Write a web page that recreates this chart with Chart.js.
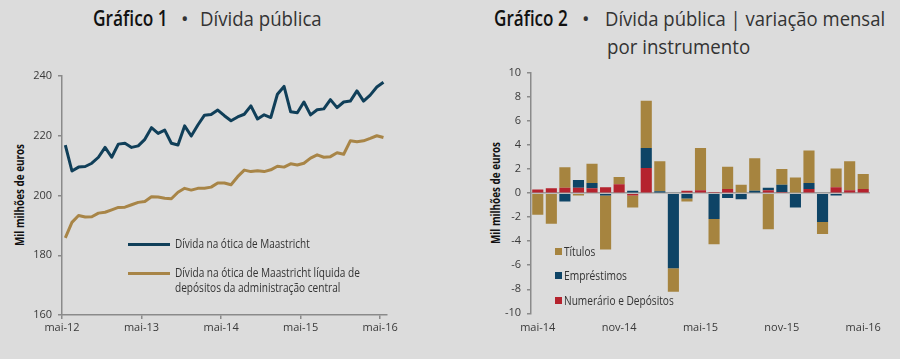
<!DOCTYPE html>
<html>
<head>
<meta charset="utf-8">
<script src="https://cdn.jsdelivr.net/npm/chart.js@4.4.1/dist/chart.umd.min.js"></script>
<style>
html,body{margin:0;padding:0;background:#dcdcdc;}
#wrap{position:relative;width:900px;height:359px;overflow:hidden;background:#dcdcdc;font-family:'Open Sans',sans-serif;color:#333;}
canvas{position:absolute;}
.t{position:absolute;white-space:nowrap;line-height:1;transform-origin:0 50%;}
.rot{position:absolute;white-space:nowrap;line-height:1;font-weight:700;font-size:12px;color:#111;}
.sw{position:absolute;}
</style>
</head>
<body>
<div id="wrap">
  <div class="t fit" data-w="75" style="left:93px;top:8px;font-size:21px;font-weight:600;color:#111">Gráfico 1</div>
  <div class="t" style="left:181px;top:9px;font-size:20px;color:#333">•</div>
  <div class="t fit" data-w="122" style="left:200px;top:9px;font-size:20px;color:#333">Dívida pública</div>

  <div class="t fit" data-w="74" style="left:494px;top:8px;font-size:21px;font-weight:600;color:#111">Gráfico 2</div>
  <div class="t" style="left:582px;top:9px;font-size:20px;color:#333">•</div>
  <div class="t fit" data-w="280" style="left:605px;top:9px;font-size:20px;color:#333">Dívida pública | variação mensal</div>
  <div class="t fit" data-w="143" style="left:607px;top:37px;font-size:20px;color:#333">por instrumento</div>

  <div class="rot fitr" data-w="102" style="left:20px;top:195px;">Mil milhões de euros</div>
  <div class="rot fitr" data-w="102" style="left:496px;top:193px;">Mil milhões de euros</div>

  <canvas id="c1" width="400" height="290" style="left:0;top:60px;"></canvas>
  <canvas id="c2" width="450" height="290" style="left:450px;top:60px;"></canvas>
  <div id="leg1"></div>
  <div id="leg2"></div>
</div>
<script>
// ---------- Gráfico 1 data ----------
const lineTickLabels = ['mai-12', 'mai-13', 'mai-14', 'mai-15', 'mai-16'];
const monthNames = ['jan','fev','mar','abr','mai','jun','jul','ago','set','out','nov','dez'];
function monthSeq(startMonth, startYear, n) {
  const out = [];
  for (let k = 0; k < n; k++) {
    const m = (startMonth + k) % 12;
    const y = startYear + Math.floor((startMonth + k) / 12);
    out.push(monthNames[m] + '-' + String(y).padStart(2, '0'));
  }
  return out;
}
const lineMonths = monthSeq(4, 12, 49); // mai-12 .. mai-16
const dividaMaastricht = [
  216.9, 208.2, 209.5, 209.7, 210.8, 212.8, 216.1, 212.8, 217.2, 217.5,
  216.1, 216.6, 218.8, 222.7, 220.8, 221.9, 217.5, 216.9, 223.3, 219.9,
  223.6, 226.9, 227.1, 228.6, 226.7, 225.0, 226.3, 227.2, 230.0, 225.6,
  227.0, 226.1, 233.9, 236.5, 228.0, 227.7, 231.3, 227.0, 228.7, 229.0,
  232.1, 229.4, 231.3, 231.6, 235.0, 231.6, 233.6, 236.3, 237.9
];
const dividaLiquida = [
  185.8, 191.0, 193.3, 192.8, 192.9, 194.1, 194.4, 195.2, 196.0, 196.1,
  196.9, 197.7, 198.0, 199.6, 199.5, 199.1, 198.9, 201.1, 202.4, 201.8,
  202.4, 202.4, 202.8, 204.2, 204.2, 203.6, 206.3, 208.5, 208.0, 208.3,
  208.0, 208.6, 209.8, 209.5, 210.6, 210.2, 210.8, 212.5, 213.6, 212.8,
  213.0, 214.3, 213.8, 218.3, 218.0, 218.3, 219.1, 220.0, 219.4
];
const lineSeriesLabels = [
  'Dívida na ótica de Maastricht',
  'Dívida na ótica de Maastricht líquida de depósitos da administração central'
];

// ---------- Gráfico 2 data ----------
const barMonths = monthSeq(4, 14, 25); // mai-14 .. mai-16
const barTickLabels = ['mai-14', 'nov-14', 'mai-15', 'nov-15', 'mai-16'];
const numerario = [0.3, 0.4, 0.45, 0.45, 0.4, 0.5, 0.75, -0.2, 2.1, 0, 0, 0.2, 0.25, 0.1, 0.35, 0.05, 0, 0.25, 0.1, 0, 0.35, 0, 0.5, 0.25, 0.35];
const emprestimos = [0, 0, -0.7, 0.65, 0.45, -0.2, 0, 0.2, 1.65, 0.15, -6.25, -0.45, 0, -2.15, -0.4, -0.5, 0.2, 0.2, 0.6, -1.2, 0.5, -2.4, -0.2, 0, 0];
const titulos = [-1.8, -2.55, 1.7, -0.2, 1.6, -4.5, 0.6, -1.0, 3.95, 2.5, -1.95, -0.25, 3.5, -2.1, 1.85, 0.65, 2.7, -3.0, 1.3, 1.3, 2.7, -1.0, 1.55, 2.4, 1.25];

// ---------- styles ----------
const C_NAVY_LINE = '#103f59';
const C_GOLD_LINE = '#a88547';
const C_GOLD = '#a6843f';
const C_NAVY = '#0e4466';
const C_RED = '#b5232e';
const AXIS = '#8a8a8a';
const TICK_FONT = {family: "'Open Sans', sans-serif", size: 11};
const TICK_COLOR = '#3a3a3a';

function fitTexts() {
  document.querySelectorAll('.fit').forEach(el => {
    const w = el.offsetWidth;
    el.style.transform = 'scaleX(' + (parseFloat(el.dataset.w) / w) + ')';
  });
  document.querySelectorAll('.fitr').forEach(el => {
    const w = el.offsetWidth;
    el.style.transformOrigin = '50% 50%';
    el.style.transform = 'translate(-50%,-50%) rotate(-90deg) scaleX(' + (parseFloat(el.dataset.w) / w) + ')';
  });
}

function build() {
  fitTexts();

  // Chart 1
  const c1 = new Chart(document.getElementById('c1'), {
    type: 'line',
    data: {
      datasets: [
        {label: lineSeriesLabels[0], data: dividaMaastricht.map((v, i) => ({x: i, y: v})),
         borderColor: C_NAVY_LINE, borderWidth: 3, pointRadius: 0, tension: 0, borderJoinStyle: 'round'},
        {label: lineSeriesLabels[1], data: dividaLiquida.map((v, i) => ({x: i, y: v})),
         borderColor: C_GOLD_LINE, borderWidth: 3, pointRadius: 0, tension: 0, borderJoinStyle: 'round'}
      ]
    },
    options: {
      responsive: false, animation: false,
      layout: {padding: {left: 0, right: 13, top: 16, bottom: 0}},
      plugins: {legend: {display: false}, tooltip: {enabled: false}},
      scales: {
        x: {
          type: 'linear', min: -0.5, max: lineMonths.length - 0.5,
          afterBuildTicks: s => { s.ticks = lineTickLabels.map((_, k) => ({value: k * 12 - 0.5})); },
          ticks: {callback: (v, i) => lineTickLabels[i], font: TICK_FONT, color: TICK_COLOR, padding: 2, maxRotation: 0, autoSkip: false},
          grid: {drawOnChartArea: false, drawTicks: true, tickLength: 4, color: AXIS, lineWidth: 1.5},
          border: {color: AXIS, width: 1.5},
          afterFit: s => { s.height = 35; }
        },
        y: {
          min: 160, max: 240,
          ticks: {stepSize: 20, font: TICK_FONT, color: TICK_COLOR, padding: 6},
          grid: {drawOnChartArea: false, drawTicks: true, tickLength: 4, color: AXIS, lineWidth: 1.5},
          border: {color: AXIS, width: 1.5},
          afterFit: s => { s.width = 62; }
        }
      }
    }
  });

  // Chart 2
  const c2 = new Chart(document.getElementById('c2'), {
    type: 'bar',
    data: {
      labels: barMonths,
      datasets: [
        {label: 'Numerário e Depósitos', data: numerario, backgroundColor: C_RED},
        {label: 'Empréstimos', data: emprestimos, backgroundColor: C_NAVY},
        {label: 'Títulos', data: titulos, backgroundColor: C_GOLD}
      ]
    },
    options: {
      responsive: false, animation: false,
      layout: {padding: {left: 0, right: 30, top: 13, bottom: 0}},
      plugins: {legend: {display: false}, tooltip: {enabled: false}},
      datasets: {bar: {barPercentage: 0.82, categoryPercentage: 1.0, borderWidth: 0}},
      scales: {
        x: {
          stacked: true,
          ticks: {callback: (v, i) => (barTickLabels.indexOf(barMonths[i]) >= 0 ? barMonths[i] : ''),
                  font: TICK_FONT, color: TICK_COLOR, padding: 8, maxRotation: 0, autoSkip: false},
          grid: {display: false, drawTicks: false},
          border: {display: false},
          afterFit: s => { s.height = 36.7; }
        },
        y: {
          stacked: true, min: -10, max: 10, z: 1,
          ticks: {stepSize: 2, font: TICK_FONT, color: TICK_COLOR, padding: 6},
          grid: {drawOnChartArea: true, drawTicks: true, tickLength: 4,
                 color: ctx => (ctx.tick && ctx.tick.value === 0 ? '#9c9c9c' : 'rgba(0,0,0,0)'),
                 tickColor: AXIS, lineWidth: 1.5},
          border: {color: AXIS, width: 1.5},
          afterFit: s => { s.width = 81; }
        }
      }
    }
  });

  // HTML legends (from dataset labels / colours)
  const leg1 = document.getElementById('leg1');
  const l1pos = [{y: 244, lines: [lineSeriesLabels[0]], w: [135]},
                 {y: 273, lines: ['Dívida na ótica de Maastricht líquida de', 'depósitos da administração central'], w: [185, 165]}];
  c1.data.datasets.forEach((ds, k) => {
    const p = l1pos[k];
    const sw = document.createElement('div');
    sw.className = 'sw';
    sw.style.cssText = 'left:128px;top:' + (p.y - 1.5) + 'px;width:42px;height:3px;background:' + ds.borderColor;
    leg1.appendChild(sw);
    p.lines.forEach((txt, j) => {
      const t = document.createElement('div');
      t.className = 't fit';
      t.dataset.w = p.w[j];
      t.textContent = txt;
      t.style.cssText = 'left:175px;top:' + (p.y + j * 15 - 6.5) + 'px;font-size:12px;color:#333;';
      leg1.appendChild(t);
    });
  });
  const leg2 = document.getElementById('leg2');
  const order = [2, 1, 0];
  const l2w = [31, 63, 110];
  order.forEach((di, k) => {
    const ds = c2.data.datasets[di];
    const y = 251 + k * 24.5;
    const sw = document.createElement('div');
    sw.className = 'sw';
    sw.style.cssText = 'left:555px;top:' + (y - 3.5) + 'px;width:7px;height:7px;background:' + ds.backgroundColor;
    leg2.appendChild(sw);
    const t = document.createElement('div');
    t.className = 't fit';
    t.dataset.w = l2w[k];
    t.textContent = ds.label;
    t.style.cssText = 'left:564px;top:' + (y - 6.5) + 'px;font-size:13px;color:#333;';
    leg2.appendChild(t);
  });
  fitTexts();
}

if (document.fonts && document.fonts.ready) {
  document.fonts.ready.then(build);
} else {
  build();
}
</script>
</body>
</html>
